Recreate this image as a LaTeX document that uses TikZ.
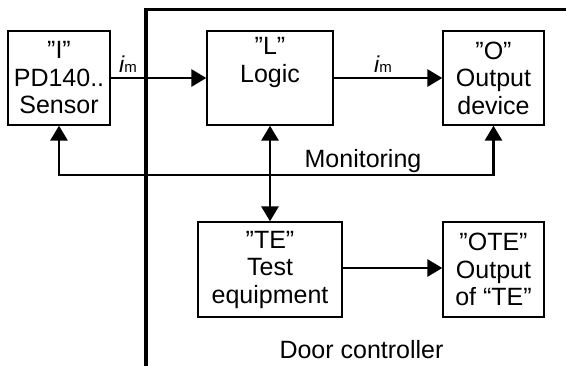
\documentclass[tikz,border=0pt]{standalone}
\usepackage{fontspec}
\setmainfont{Liberation Sans}
\usetikzlibrary{arrows.meta}
\begin{document}
\begin{tikzpicture}[x=1pt,y=-1pt,
  blk/.style={draw, line width=1.3pt, rectangle, inner sep=0pt, align=center,
    font=\fontsize{25}{27.5}\selectfont},
  arr/.style={line width=2.8pt, -{Triangle[length=15pt,width=17pt]}},
  darr/.style={line width=2.8pt, {Triangle[length=15pt,width=17pt]}-{Triangle[length=15pt,width=17pt]}},
  lbl/.style={inner sep=0pt, font=\fontsize{25}{27.5}\selectfont},
  imlbl/.style={inner sep=0pt, anchor=base west}]
\useasboundingbox (0,0) rectangle (566,365);
% Door controller frame
\coordinate (fb) at (146,366);
\coordinate (fc) at (146,9.5);
\coordinate (fr) at (567,9.5);
\draw[line width=3.2pt] (fb) -- (fc) -- (fr);
% boxes
\node[blk, minimum width=102pt, minimum height=94pt] (S) at (59,78) {”I”\\PD140..\\Sensor};
\node[blk, minimum width=126pt, minimum height=94pt] (L) at (270,78) {”L”\\Logic\\\strut};
\node[blk, minimum width=101pt, minimum height=94pt] (O) at (493.5,78) {”O”\\Output\\device};
\node[blk, minimum width=144pt, minimum height=95pt] (TE) at (270,269.5) {”TE”\\Test\\equipment};
\node[blk, minimum width=101pt, minimum height=95pt] (OTE) at (493.5,269.5) {”OTE”\\Output\\of “TE”};
% connectors
\draw[arr] (S.east) -- (L.west);
\draw[arr] (L.east) -- (O.west);
\draw[darr] (L.south) -- (TE.north);
\draw[arr] (TE.east |- 0,268) -- (OTE.west |- 0,268);
\draw[darr] (S.south) -- (S.south |- 0,175) -- (O.south |- 0,175) -- (O.south);
% labels
\node[imlbl] (im1) at (119,72) {{\fontsize{23}{23}\selectfont\itshape i}{\fontsize{15}{15}\selectfont m}};
\node[imlbl] (im2) at (374,72) {{\fontsize{23}{23}\selectfont\itshape i}{\fontsize{15}{15}\selectfont m}};
\node[lbl, anchor=base] (mon) at (363,167) {Monitoring};
\node[lbl, anchor=base] (dc) at (361.5,358) {Door controller};
\end{tikzpicture}
\end{document}
